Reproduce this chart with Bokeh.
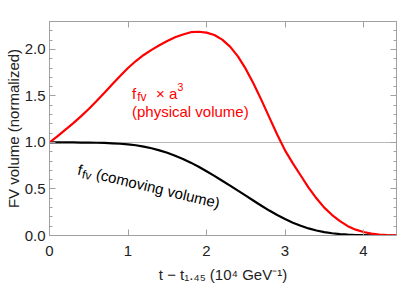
import math
from bokeh.plotting import figure
from bokeh.models import LinearAxis, FixedTicker, NumeralTickFormatter, CustomJSTickFormatter
from bokeh.core.properties import value
from bokeh.embed import file_html
from bokeh.resources import INLINE

# ---- data ----
t_phys = [0.0, 0.1, 0.2, 0.3, 0.4, 0.5, 0.6, 0.7, 0.8, 0.9, 1.0, 1.1, 1.2, 1.3, 1.4,
          1.5, 1.6, 1.7, 1.8, 1.9, 2.0, 2.1, 2.2, 2.3, 2.4, 2.5, 2.6, 2.7, 2.8, 2.9,
          3.0, 3.1, 3.2, 3.3, 3.4, 3.5, 3.6, 3.7, 3.8, 3.9, 4.0, 4.1, 4.2, 4.3, 4.42]
v_phys = [1.000, 1.065, 1.135, 1.205, 1.280, 1.360, 1.445, 1.535, 1.625, 1.715, 1.800,
          1.875, 1.940, 1.995, 2.045, 2.090, 2.130, 2.160, 2.185, 2.190, 2.180, 2.155,
          2.105, 2.030, 1.925, 1.790, 1.630, 1.455, 1.270, 1.085, 0.915, 0.775, 0.645,
          0.515, 0.400, 0.300, 0.220, 0.155, 0.100, 0.063, 0.038, 0.020, 0.010, 0.004,
          0.001]
t_com = [0.0, 0.1, 0.2, 0.3, 0.4, 0.5, 0.6, 0.7, 0.8, 0.9, 1.0, 1.1, 1.2, 1.3, 1.4,
         1.5, 1.6, 1.7, 1.8, 1.9, 2.0, 2.1, 2.2, 2.3, 2.4, 2.5, 2.6, 2.7, 2.8, 2.9,
         3.0, 3.1, 3.2, 3.3, 3.4, 3.5, 3.6, 3.7, 3.8, 3.9, 4.0, 4.1, 4.2, 4.3, 4.42]
v_com = [1.000, 1.000, 1.000, 1.000, 0.999, 0.998, 0.997, 0.995, 0.991, 0.986, 0.979,
         0.970, 0.956, 0.938, 0.915, 0.889, 0.858, 0.823, 0.783, 0.739, 0.691, 0.641,
         0.589, 0.536, 0.482, 0.428, 0.374, 0.320, 0.268, 0.220, 0.177, 0.138, 0.104,
         0.076, 0.054, 0.037, 0.024, 0.015, 0.009, 0.005, 0.003, 0.001, 0.0005, 0.0002,
         0.0]
x_ticks = [0, 1, 2, 3, 4]
y_ticks = [0.0, 0.5, 1.0, 1.5, 2.0]
y_minor = [round(0.1 * i, 1) for i in range(0, 24)]

X0, X1 = 0.0, 4.42
Y0, Y1 = 0.0, 2.3
W, H = 399, 285
BL, BR, BT, BB = 49, 3, 21, 48
FW, FH = W - BL - BR, H - BT - BB
PX = (X1 - X0) / FW
PY = (Y1 - Y0) / FH

FONT = "Liberation Sans"
FRAME = "#a0a0a0"

p = figure(width=W, height=H, x_range=(X0, X1), y_range=(Y0, Y1),
           output_backend="svg", toolbar_location=None,
           min_border_left=BL, min_border_right=BR, min_border_top=BT, min_border_bottom=BB,
           background_fill_color="white", border_fill_color="white")
p.outline_line_color = FRAME
p.outline_line_width = 1

def style_axis(ax, labels=True):
    ax.axis_line_color = FRAME
    ax.major_tick_line_color = FRAME
    ax.minor_tick_line_color = FRAME
    ax.major_tick_in = 6
    ax.major_tick_out = 0
    ax.minor_tick_in = 3
    ax.minor_tick_out = 0
    ax.major_label_text_font = FONT
    ax.major_label_text_font_size = "15px"
    ax.major_label_text_color = "#222222"
    ax.axis_label_text_font = FONT
    ax.axis_label_text_font_size = "15px"
    ax.axis_label_text_font_style = "normal"
    ax.axis_label_text_color = "#222222"
    if not labels:
        ax.formatter = CustomJSTickFormatter(code="return ''")
        ax.major_label_standoff = 0

# bottom / left
xa = p.xaxis[0]
xa.ticker = FixedTicker(ticks=x_ticks, minor_ticks=[])
style_axis(xa)
xa.major_label_standoff = 10
xa.axis_label = "t \u2212 t\u2081.\u2084\u2085 (10\u2074 GeV\u207b\u00b9)"
xa.axis_label_standoff = 7

ya = p.yaxis[0]
ya.ticker = FixedTicker(ticks=y_ticks, minor_ticks=y_minor)
ya.formatter = NumeralTickFormatter(format="0.0")
style_axis(ya)
ya.major_label_standoff = 4
ya.axis_label = "FV volume (normalized)"
ya.axis_label_standoff = 0

# right / top frame axes
ra = LinearAxis(ticker=FixedTicker(ticks=y_ticks, minor_ticks=y_minor))
style_axis(ra, labels=False)
p.add_layout(ra, "right")
ta = LinearAxis(ticker=FixedTicker(ticks=x_ticks, minor_ticks=[]))
style_axis(ta, labels=False)
p.add_layout(ta, "above")

# gridline at 1
p.xgrid.visible = False
p.ygrid.ticker = FixedTicker(ticks=[1.0])
p.ygrid.grid_line_color = "#b8b8b8"
p.ygrid.grid_line_width = 1

# curves
p.line(t_com, v_com, line_color="black", line_width=2.2)
p.line(t_phys, v_phys, line_color="#ff0000", line_width=2.2)

def put(x, y, txt, size, color, angle=0.0):
    p.text([x], [y], text=[txt], text_font=value(FONT), text_font_size=size,
           text_color=color, text_align="left", text_baseline="alphabetic", angle=angle)

# red label
RED = "#ff0000"
ax0, ay0 = (131.5 - 49) * PX, (237 - 93.5) * PY
def red_piece(dx, dy, txt, size):
    put(ax0 + dx * PX, ay0 - dy * PY, txt, size, RED)
red_piece(0, 0, "f", "15px")
red_piece(5.2, 4, "fv", "12px")
red_piece(24, 0, "\u00d7 a", "15px")
red_piece(45.5, -6, "3", "10.5px")
put(ax0, (237 - 112) * PY, "(physical volume)", "15px", RED)

# black rotated label
alpha = math.radians(13.5)
bx0, by0 = (77.5 - 49) * PX, (237 - 170) * PY
def blk_piece(d, s, txt, size):
    dx = d * math.cos(alpha) - s * math.sin(alpha)
    dy = d * math.sin(alpha) + s * math.cos(alpha)
    put(bx0 + dx * PX, by0 - dy * PY, txt, size, "black", angle=-alpha)
blk_piece(0, 0, "f", "15px")
blk_piece(5.2, 4, "fv", "12px")
blk_piece(19, 0, "(comoving volume)", "15px")

open("out.html", "w").write(file_html(p, INLINE))
